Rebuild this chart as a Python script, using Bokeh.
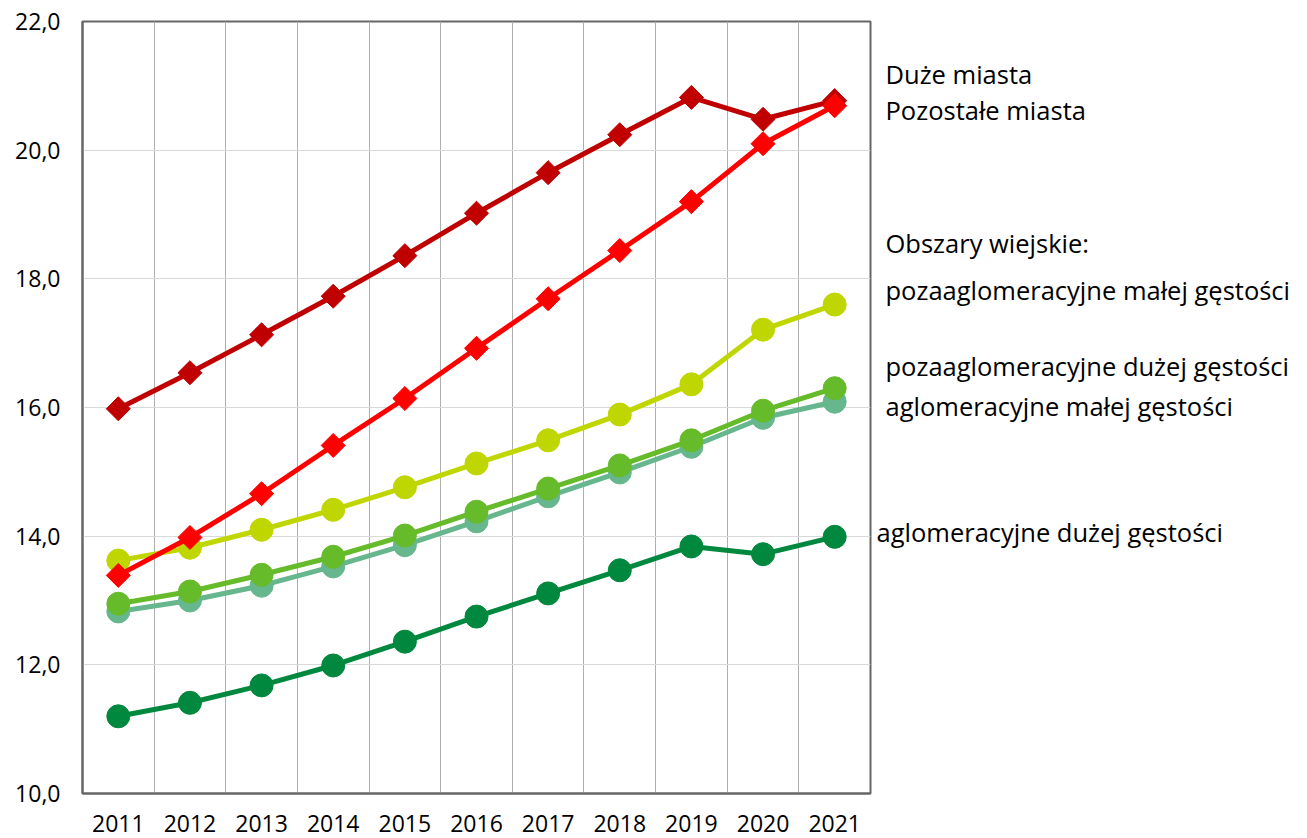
import math
from bokeh.plotting import figure
from bokeh.layouts import row
from bokeh.models import Range1d, FixedTicker, Label
from bokeh.embed import file_html
from bokeh.resources import INLINE

years = ["2011", "2012", "2013", "2014", "2015", "2016", "2017", "2018", "2019", "2020", "2021"]

duze_miasta = [15.98, 16.54, 17.13, 17.73, 18.36, 19.02, 19.65, 20.24, 20.82, 20.48, 20.77]
pozostale_miasta = [13.39, 13.98, 14.66, 15.41, 16.14, 16.92, 17.69, 18.44, 19.20, 20.10, 20.69]
poza_malej = [13.62, 13.82, 14.10, 14.41, 14.76, 15.13, 15.49, 15.89, 16.36, 17.21, 17.60]
poza_duzej = [12.95, 13.14, 13.40, 13.68, 14.01, 14.38, 14.74, 15.10, 15.49, 15.95, 16.30]
aglo_malej = [12.83, 13.00, 13.23, 13.53, 13.86, 14.23, 14.62, 14.99, 15.39, 15.84, 16.09]
aglo_duzej = [11.20, 11.41, 11.68, 11.99, 12.36, 12.75, 13.11, 13.47, 13.84, 13.72, 13.99]

y_ticks = [10, 12, 14, 16, 18, 20, 22]
y_tick_labels = ["10,0", "12,0", "14,0", "16,0", "18,0", "20,0", "22,0"]

label_texts = ["Duże miasta", "Pozostałe miasta", "Obszary wiejskie:",
               "pozaaglomeracyjne małej gęstości", "pozaaglomeracyjne dużej gęstości",
               "aglomeracyjne małej gęstości", "aglomeracyjne dużej gęstości"]
# label placement (side panel units = px from its left edge; y in data units)
label_y = [21.19, 20.63, 18.55, 17.82, 16.65, 16.03, 14.06]
label_x = [11, 11, 11, 11, 11, 11, 2]

FONT = "Open Sans"

xs = [i + 0.5 for i in range(len(years))]
yr = Range1d(10, 22)

p = figure(x_range=Range1d(0, len(years)), y_range=yr,
           frame_width=788, frame_height=772,
           min_border_left=82, min_border_right=4, min_border_top=21, min_border_bottom=44,
           output_backend="svg", toolbar_location=None)

p.outline_line_color = "#666666"
p.outline_line_width = 2
p.background_fill_color = "white"
p.border_fill_color = "white"

for ax in (p.xaxis, p.yaxis):
    ax.axis_line_color = "#666666"
    ax.axis_line_width = 2
    ax.major_tick_line_color = None
    ax.minor_tick_line_color = None
    ax.major_label_text_font = FONT
    ax.major_label_text_font_size = "23px"
    ax.major_label_text_color = "black"
p.xaxis.ticker = FixedTicker(ticks=xs)
p.xaxis.major_label_overrides = {x: y for x, y in zip(xs, years)}
p.xaxis.major_label_standoff = 15
p.yaxis.major_label_standoff = 16
p.yaxis.ticker = FixedTicker(ticks=y_ticks)
p.yaxis.major_label_overrides = {t: l for t, l in zip(y_ticks, y_tick_labels)}

p.ygrid.ticker = FixedTicker(ticks=y_ticks)
p.ygrid.grid_line_color = "#D9D9D9"
p.ygrid.grid_line_width = 1
p.xgrid.ticker = FixedTicker(ticks=list(range(1, len(years))))
p.xgrid.grid_line_color = "#B0B0B0"
p.xgrid.grid_line_width = 1

series = [
    (aglo_duzej, "#00883E", "circle"),
    (aglo_malej, "#66B68E", "circle"),
    (poza_duzej, "#66BB2A", "circle"),
    (poza_malej, "#C0D600", "circle"),
    (duze_miasta, "#C00000", "diamond"),
    (pozostale_miasta, "#FF0000", "diamond"),
]
for vals, col, mk in series:
    p.line(xs, vals, line_color=col, line_width=5)
    if mk == "circle":
        p.scatter(xs, vals, marker="circle", size=23, fill_color=col, line_color=col)
    else:
        p.scatter(xs, vals, marker="square", size=17, angle=math.pi / 4,
                  fill_color=col, line_color=col)

# side panel holding the series labels, sharing the y scale
p2 = figure(x_range=Range1d(0, 425), y_range=yr,
            frame_width=425, frame_height=772,
            min_border_left=0, min_border_right=0, min_border_top=21, min_border_bottom=44,
            x_axis_location=None, y_axis_location=None,
            output_backend="svg", toolbar_location=None)
p2.outline_line_color = None
p2.xgrid.visible = False
p2.ygrid.visible = False
p2.border_fill_color = "white"

for t, x, y in zip(label_texts, label_x, label_y):
    p2.add_layout(Label(x=x, y=y, text=t, text_font=FONT,
                        text_font_size="25.5px", text_color="black",
                        text_baseline="middle", text_align="left"))

open("out.html", "w").write(file_html(row(p, p2), INLINE))
